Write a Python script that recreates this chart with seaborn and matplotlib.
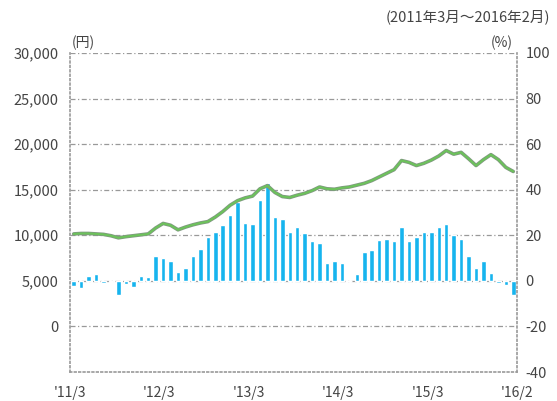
import matplotlib
matplotlib.use("Agg")
import matplotlib.pyplot as plt
import seaborn as sns
import pandas as pd
import numpy as np

# ---- data ----
months = list(range(60))  # 2011/3 .. 2016/2
pct_change = [-2.2, -3.2, 2.2, 3.0, -1.0, -0.5, -6.0, -1.5, -2.5, 2.0,
              1.5, 10.7, 10.0, 8.5, 3.7, 5.8, 10.7, 13.9, 19.4, 21.6,
              24.6, 28.7, 34.8, 25.6, 25.0, 35.5, 42.8, 28.0, 27.2, 21.6,
              23.5, 20.9, 17.7, 16.5, 8.0, 8.5, 7.7, 0.0, 3.0, 12.6,
              13.6, 18.0, 18.3, 17.7, 23.8, 17.7, 19.2, 21.3, 21.6, 23.5,
              24.8, 20.2, 18.4, 10.7, 5.6, 8.5, 3.4, -0.8, -1.8, -6.1]
price_yen = [10150, 10200, 10200, 10150, 10100, 9950, 9720, 9850, 9950, 10050,
             10150, 10800, 11300, 11100, 10600, 10900, 11150, 11350, 11500, 12000,
             12600, 13300, 13800, 14100, 14300, 15100, 15450, 14700, 14250, 14150,
             14400, 14600, 14900, 15300, 15100, 15050, 15200, 15300, 15500, 15700,
             16000, 16400, 16800, 17200, 18200, 18000, 17650, 17900, 18250, 18700,
             19300, 18900, 19100, 18400, 17650, 18300, 18850, 18300, 17450, 17000]
xtick_labels = ["'11/3", "'12/3", "'13/3", "'14/3", "'15/3", "'16/2"]
left_ticks = [0, 5000, 10000, 15000, 20000, 25000, 30000]
right_ticks = [-40, -20, 0, 20, 40, 60, 80, 100]

df = pd.DataFrame({"m": months, "pct": pct_change, "price": price_yen})

sns.set_style("white")
plt.rcParams['font.family'] = ['Noto Sans CJK JP', 'DejaVu Sans']

fig = plt.figure(figsize=(5.57, 4.01), dpi=100)
ax = fig.add_axes([70/557, 1-372/401, 447/557, 319/401])

bar_color = "#16b4ee"
sns.barplot(data=df, x="m", y="pct", ax=ax, color=bar_color, width=0.6,
            saturation=1, zorder=2)
ax.set_xlim(-0.5, 59.5)
ax.set_ylim(-40, 100)

# grid lines (dash-dot)
for v in [-20, 0, 20, 40, 60, 80, 100]:
    ax.axhline(v, color="#999999", lw=0.9, ls=(0, (4, 2, 1, 2)), zorder=1)

ax2 = ax.twinx()
sns.lineplot(data=df, x="m", y="price", ax=ax2, color="#7f9a7f", lw=2.6,
             zorder=3)
sns.lineplot(data=df, x="m", y="price", ax=ax2, color="#6cc35a", lw=1.4,
             zorder=4)
ax2.set_ylim(-5000, 30000)
ax2.set_xlim(-0.5, 59.5)

# right axis: percent (on bar axes)
ax.yaxis.tick_right()
ax.yaxis.set_label_position("right")
ax.set_yticks(right_ticks)
ax.set_yticklabels([str(t) for t in right_ticks])
ax.set_xticks([-0.5, 11.5, 23.5, 35.5, 47.5, 59.5])
ax.set_xticklabels(xtick_labels)
ax.set_xlabel("")
ax.set_ylabel("")
ax.tick_params(axis="x", direction="in", length=3, color="#999999",
               labelsize=10, labelcolor="#444444", pad=10)
ax.tick_params(axis="y", which="both", direction="in", length=0,
               labelsize=10.5, labelcolor="#444444", pad=6,
               left=False, labelleft=False, right=False, labelright=True)

for s in ["left", "right", "bottom"]:
    ax.spines[s].set_visible(True)
    ax.spines[s].set_color("#999999")
    ax.spines[s].set_linestyle(":")
    ax.spines[s].set_linewidth(1.2)
ax.spines["top"].set_visible(False)

# left axis: yen (on line axes)
ax2.set_yticks(left_ticks)
ax2.set_yticklabels([f"{t:,}" for t in left_ticks])
ax2.set_ylabel("")
ax2.set_xlabel("")
ax2.tick_params(axis="y", which="both", direction="in", length=0,
                labelsize=10.5, labelcolor="#444444", pad=8,
                left=False, labelleft=True, right=False, labelright=False)
for s in ax2.spines.values():
    s.set_visible(False)

fig.text(72/557, 1-43/401, "(円)", fontsize=10, color="#444444",
         ha="left", va="center")
fig.text(513/557, 1-43/401, "(%)", fontsize=10, color="#444444",
         ha="right", va="center")
fig.text(550/557, 1-17/401, "(2011年3月～2016年2月)", fontsize=10.5,
         color="#444444", ha="right", va="center")

fig.savefig("out.png", dpi=100)
